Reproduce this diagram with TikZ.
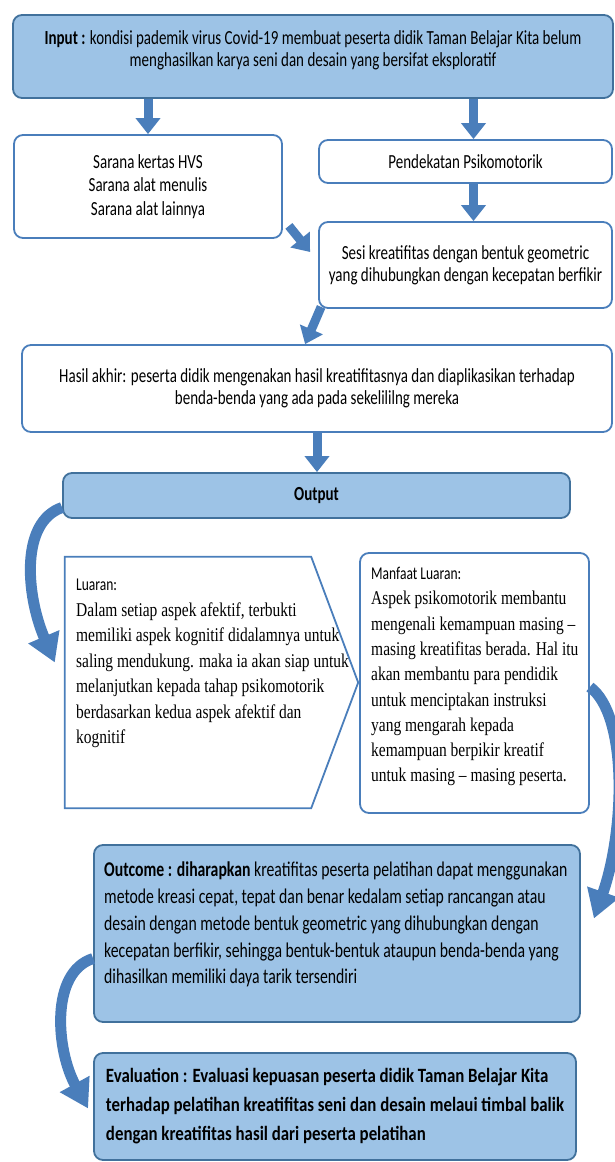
\documentclass[tikz,border=0pt]{standalone}
\usepackage{fontspec}
\setmainfont{Carlito}[FakeStretch=0.75]
\newfontfamily\evalfont{Carlito}[FakeStretch=0.83]
\newfontfamily\serifc{Liberation Serif}[FakeStretch=0.794]
\usetikzlibrary{arrows.meta,calc}
\definecolor{boxblue}{HTML}{9DC3E6}
\definecolor{edgeblue}{HTML}{41719C}
\definecolor{linewb}{HTML}{4A7EBB}
\definecolor{arrblue}{HTML}{4A7EBB}
\begin{document}
\begin{tikzpicture}[x=1pt,y=-1pt,
  wbox/.style={draw=linewb, line width=1.8pt, rounded corners=9pt, fill=white, inner sep=0pt, align=center, font=\fontsize{20}{22}\selectfont},
  bbox/.style={wbox, draw=edgeblue, fill=boxblue},
  txt/.style={anchor=north west, inner sep=0pt, align=left},
  blockarr/.style={draw=arrblue, line width=9pt, -{Triangle[width=24pt,length=16pt]}},
  curvearr/.style={draw=arrblue, line width=11pt, -{Triangle[width=32pt,length=28pt]}},
]
\useasboundingbox (0,0) rectangle (614,1162);

\node[bbox, minimum width=600pt, minimum height=83pt, text depth=15pt] (input) at (313,56.5)
  {\textbf{Input :} kondisi pademik virus Covid-19 membuat peserta didik Taman Belajar Kita belum\\menghasilkan karya seni dan desain yang bersifat eksploratif};
\node[wbox, minimum width=268pt, minimum height=103pt, font=\fontsize{20}{23.5}\selectfont] (sarana) at (148,186.5)
  {Sarana kertas HVS\\Sarana alat menulis\\Sarana alat lainnya};
\node[wbox, minimum width=293pt, minimum height=43pt] (pendek) at (465.5,161.5) {Pendekatan Psikomotorik};
\node[wbox, minimum width=293pt, minimum height=86pt] (sesi) at (465.5,265)
  {Sesi kreatifitas dengan bentuk geometric\\yang dihubungkan dengan kecepatan berfikir};
\node[wbox, minimum width=590pt, minimum height=87pt] (hasil) at (317,388.5)
  {Hasil akhir: peserta didik mengenakan hasil kreatifitasnya dan diaplikasikan terhadap\\benda-benda yang ada pada sekelililng mereka};
\node[bbox, minimum width=507pt, minimum height=45pt] (output) at (316.5,495.5) {\textbf{Output}};

\node[inner sep=0pt, minimum width=293pt, minimum height=251pt] (luaran) at (211.5,682.5) {};
\draw[draw=linewb, line width=1.8pt, fill=white] (luaran.north west) -- ($(luaran.north east)+(-47,0)$) -- (luaran.east) -- ($(luaran.south east)+(-47,0)$) -- (luaran.south west) -- cycle;
\node[txt, font=\serifc\fontsize{19.5}{25.5}\selectfont] (luarantxt) at (76,579)
  {{\rmfamily\fontsize{18}{25.5}\selectfont Luaran:}\\Dalam setiap aspek afektif, terbukti\\memiliki aspek kognitif didalamnya untuk\\saling mendukung. maka ia akan siap untuk\\melanjutkan kepada tahap psikomotorik\\berdasarkan kedua aspek afektif dan\\kognitif};

\node[wbox, minimum width=229pt, minimum height=260pt] (manfaat) at (474.5,683) {};
\node[txt, font=\serifc\fontsize{19.5}{25.3}\selectfont] (manfaattxt) at (371,567)
  {{\rmfamily\fontsize{18}{25.3}\selectfont Manfaat Luaran:}\\Aspek psikomotorik membantu\\mengenali kemampuan masing –\\masing kreatifitas berada. Hal itu\\akan membantu para pendidik\\untuk menciptakan instruksi\\yang mengarah kepada\\kemampuan berpikir kreatif\\untuk masing – masing peserta.};

\node[bbox, minimum width=486pt, minimum height=177pt] (outcome) at (337,933.5) {};
\node[txt, font=\fontsize{21}{26.75}\selectfont] (outcometxt) at (104,862)
  {\textbf{Outcome : diharapkan} kreatifitas peserta pelatihan dapat menggunakan\\metode kreasi cepat, tepat dan benar kedalam setiap rancangan atau\\desain dengan metode bentuk geometric yang dihubungkan dengan\\kecepatan berfikir, sehingga bentuk-bentuk ataupun benda-benda yang\\dihasilkan memiliki daya tarik tersendiri};

\node[bbox, minimum width=482pt, minimum height=107pt, align=left, font=\evalfont\bfseries\fontsize{20.3}{29}\selectfont] (eval) at (335,1106.5)
  {Evaluation : Evaluasi kepuasan peserta didik Taman Belajar Kita\\terhadap pelatihan kreatifitas seni dan desain melaui timbal balik\\dengan kreatifitas hasil dari peserta pelatihan};

% straight block arrows
\draw[blockarr] (input.south -| sarana.north) -- (sarana.north);
\draw[blockarr] ($(pendek.north |- input.south)+(8,0)$) -- ($(pendek.north)+(8,0)$);
\draw[blockarr] ($(pendek.south)+(8,0)$) -- ($(sesi.north)+(8,0)$);
\draw[blockarr] ($(sarana.south east)+(6,-13)$) -- ($(sesi.west)+(-8,-13)$);
\draw[blockarr] ($(sesi.south west)+(3,-2)$) -- ($(hasil.north -| sesi.west)+(-13,0)$);
\draw[blockarr] (hasil.south) -- (hasil.south |- output.north);

% curved arrows
\draw[curvearr] ($(output.west)+(0,12)$) .. controls (20,522) and (26,595) .. ($(luaran.west)+(-10,-20)$);
\draw[curvearr] ($(manfaat.east)+(0,4)$) .. controls (628,715) and (625,830) .. ($(outcome.east)+(13,-15)$);
\draw[curvearr] ($(outcome.west)+(0,25)$) .. controls (50,972) and (56,1050) .. ($(eval.west)+(-5,2)$);
\end{tikzpicture}
\end{document}
